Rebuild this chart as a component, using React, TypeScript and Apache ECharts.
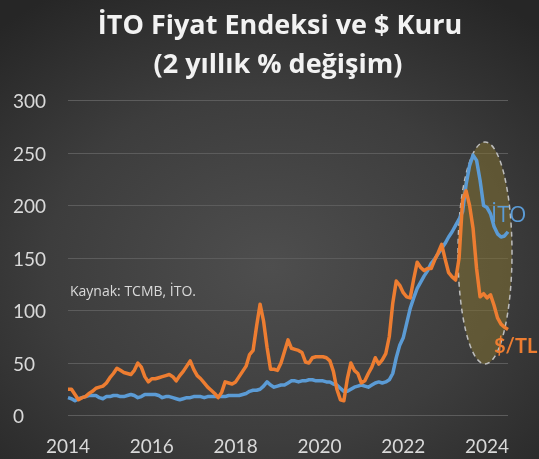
import React, { useEffect, useRef } from "react";
import * as echarts from "echarts";

// Monthly categories: 2014-01 .. 2024-07
const months: string[] = [];
for (let y = 2014; y <= 2024; y++) {
  for (let m = 1; m <= 12; m++) {
    if (y === 2024 && m > 7) break;
    months.push(`${y}-${String(m).padStart(2, "0")}`);
  }
}

const yTicks = [0, 50, 100, 150, 200, 250, 300];

// İTO price index, 2-year % change
const itoValues = [
  17, 16, 14, 16, 17, 18, 19, 19, 19, 17, 16, 18,
  18, 19, 19, 18, 18, 19, 20, 19, 17, 18, 20, 20,
  20, 20, 19, 17, 18, 18, 17, 16, 15, 16, 17, 17,
  18, 18, 18, 17, 18, 18, 18, 18, 18, 18, 19, 19,
  19, 19, 20, 21, 23, 24, 24, 25, 28, 32, 29, 27,
  28, 29, 29, 31, 33, 33, 32, 33, 33, 34, 34, 33,
  33, 33, 32, 32, 30, 29, 26, 23, 23, 25, 27, 28,
  29, 28, 27, 29, 31, 32, 31, 32, 34, 40, 55, 67,
  74, 88, 102, 112, 121, 127, 133, 138, 145, 149, 154, 159,
  164, 170, 175, 181, 187, 194, 220, 238, 248, 243, 224, 200,
  198, 192, 180, 173, 170, 171, 175,
];

// $/TL, 2-year % change
const usdValues = [
  25, 25, 20, 15, 17, 18, 21, 23, 26, 27, 28, 31,
  36, 40, 45, 43, 41, 40, 39, 43, 50, 46, 37, 32,
  35, 35, 36, 37, 38, 39, 37, 33, 38, 42, 47, 52,
  44, 38, 35, 31, 27, 24, 21, 17, 22, 32, 31, 30,
  32, 37, 42, 47, 58, 62, 85, 106, 90, 65, 44, 44,
  43, 50, 61, 72, 64, 63, 62, 60, 51, 50, 55, 56,
  56, 56, 55, 52, 42, 25, 15, 14, 35, 50, 43, 40,
  31, 33, 40, 46, 55, 49, 53, 59, 75, 107, 128, 124,
  117, 113, 112, 130, 146, 141, 138, 140, 140, 148, 155, 163,
  149, 136, 132, 129, 150, 205, 214, 200, 178, 140, 113, 116,
  112, 115, 105, 93, 87, 84, 82,
];

const seriesNames = ["İTO", "$/TL"];
const sourceText = "Kaynak: TCMB, İTO.";
const titleLines = ["İTO Fiyat Endeksi ve $ Kuru", "(2 yıllık % değişim)"];

export default function App() {
  const ref = useRef<HTMLDivElement>(null);
  useEffect(() => {
    if (!ref.current) return;
    const chart = echarts.init(ref.current, undefined, { renderer: "svg" });
    const font = "Lato, 'Open Sans', sans-serif";
    const font2 = "'Open Sans', Lato, sans-serif";
    chart.setOption({
      animation: false,
      backgroundColor: "transparent",
      textStyle: { fontFamily: font },
      grid: { left: 68, right: 31, top: 100.5, bottom: 43.5 },
      xAxis: {
        type: "category",
        data: months,
        boundaryGap: false,
        axisLine: { show: false },
        axisTick: { show: false },
        splitLine: { show: false },
        axisLabel: {
          color: "#d9d9d9",
          fontSize: 19,
          margin: 20,
          interval: (idx: number) => idx % 24 === 0,
          formatter: (v: string) => v.slice(0, 4),
        },
      },
      yAxis: {
        type: "value",
        min: yTicks[0],
        max: yTicks[yTicks.length - 1],
        interval: 50,
        axisLine: { show: false },
        axisTick: { show: false },
        splitLine: { lineStyle: { color: "#5c5c5c", width: 1 } },
        axisLabel: {
          color: "#d9d9d9",
          fontSize: 19,
          align: "left",
          margin: 55,
        },
      },
      series: [
        {
          name: seriesNames[0],
          type: "line",
          data: itoValues,
          showSymbol: false,
          z: 3,
          lineStyle: { color: "#5b9bd5", width: 3.5, join: "round" },
          itemStyle: { color: "#5b9bd5" },
        },
        {
          name: seriesNames[1],
          type: "line",
          data: usdValues,
          showSymbol: false,
          z: 4,
          lineStyle: { color: "#ed7d31", width: 3.5, join: "round" },
          itemStyle: { color: "#ed7d31" },
        },
      ],
      graphic: [
        {
          type: "text",
          z: 10,
          x: 280,
          y: 23,
          style: {
            text: titleLines[0],
            fill: "#f2f2f2",
            fontSize: 27,
            fontWeight: "bold",
            fontFamily: font2,
            textAlign: "center",
            verticalAlign: "middle",
          },
        },
        {
          type: "text",
          z: 10,
          x: 278,
          y: 62,
          style: {
            text: titleLines[1],
            fill: "#f2f2f2",
            fontSize: 27,
            fontWeight: "bold",
            fontFamily: font2,
            textAlign: "center",
            verticalAlign: "middle",
          },
        },
        {
          type: "ellipse",
          z: 1,
          shape: { cx: 485, cy: 253, rx: 27, ry: 111 },
          style: {
            fill: "rgba(128,112,50,0.55)",
            stroke: "#bdbdbd",
            lineWidth: 1.5,
            lineDash: [5, 4],
          },
        },
        {
          type: "text",
          z: 10,
          x: 70,
          y: 290,
          style: {
            text: sourceText,
            fill: "#d9d9d9",
            fontSize: 14,
            fontFamily: font2,
            verticalAlign: "middle",
          },
        },
        {
          type: "text",
          z: 10,
          x: 491,
          y: 213,
          style: {
            text: seriesNames[0],
            fill: "#5b9bd5",
            fontSize: 22,
            fontFamily: font2,
            verticalAlign: "middle",
          },
        },
        {
          type: "text",
          z: 10,
          x: 494,
          y: 345,
          style: {
            text: seriesNames[1],
            fill: "#ed7d31",
            fontSize: 20,
            fontWeight: "bold",
            fontFamily: font,
            verticalAlign: "middle",
          },
        },
      ],
    });
    return () => chart.dispose();
  }, []);
  return (
    <div
      ref={ref}
      style={{
        position: "fixed",
        left: 0,
        top: 0,
        width: 539,
        height: 459,
        overflow: "hidden",
        background:
          "radial-gradient(ellipse 75% 70% at 50% 58%, #4e4e4e 0%, #3d3d3d 55%, #262626 100%)",
      }}
    />
  );
}
